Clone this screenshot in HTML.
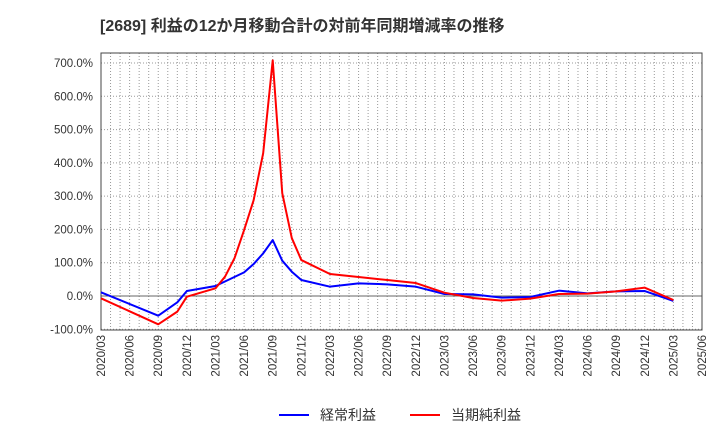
<!DOCTYPE html>
<html><head><meta charset="utf-8"><style>
body{margin:0;background:#fff;}
svg text{font-family:"Liberation Sans","Noto Sans CJK JP",sans-serif;}
</style></head><body>
<svg id="chart" width="720" height="440" xmlns="http://www.w3.org/2000/svg">
<text x="100" y="31" font-size="16" font-weight="bold" fill="#333">[2689]  利益の12か月移動合計の対前年同期増減率の推移</text>
<g id="grid"></g><g id="axes"></g><g id="series"></g>
<g>
<line x1="279" y1="415" x2="309" y2="415" stroke="#0000ff" stroke-width="2"/>
<text x="320" y="420" font-size="14" fill="#333">経常利益</text>
<line x1="410" y1="415" x2="440" y2="415" stroke="#ff0000" stroke-width="2"/>
<text x="451" y="420" font-size="14" fill="#333">当期純利益</text>
</g>
</svg>
<script>
const blueMonths=[0,6,8,9,12,15,16,17,18,19,20,21,24,27,30,33,36,39,42,45,48,51,54,57,60];
const blueValues=[11,-59,-19,15,30,71,96,128,168,106,73,48,28,38,35,28,6,5,-5,-3,16,8,14,15,-15];
const redMonths=[0,6,8,9,12,13,14,15,16,17,18,19,20,21,24,27,30,33,36,39,42,45,48,51,54,57,60];
const redValues=[-7,-85,-47,-2,23,58,114,198,288,429,708,309,174,108,66,57,48,39,10,-6,-14,-8,6,7,14,25,-12];
const yTicks=[-100,0,100,200,300,400,500,600,700];
const xTickLabels=["2020/03","2020/06","2020/09","2020/12","2021/03","2021/06","2021/09","2021/12","2022/03","2022/06","2022/09","2022/12","2023/03","2023/06","2023/09","2023/12","2024/03","2024/06","2024/09","2024/12","2025/03","2025/06"];
const L=101,R=702,T=53,B=330,NM=63;
const x=m=>L+(R-L)*m/NM;
const y=v=>296-v*(296-63)/700;
const ns="http://www.w3.org/2000/svg";
function mk(tag,attrs,parent){const e=document.createElementNS(ns,tag);for(const k in attrs)e.setAttribute(k,attrs[k]);parent.appendChild(e);return e;}
const grid=document.getElementById('grid'),axes=document.getElementById('axes'),ser=document.getElementById('series');
for(let m=1;m<NM;m++){const l=mk('line',{x1:x(m),x2:x(m),y1:T,y2:B,stroke:'#999','stroke-dasharray':'1,2','stroke-width':1},grid);

}
yTicks.forEach(v=>{const l=mk('line',{x1:L,x2:R,y1:y(v),y2:y(v),stroke:v===0?'#666':'#999','stroke-dasharray':v===0?'none':'1,2','stroke-width':1},grid);


const t=mk('text',{x:L-8,y:y(v)+4,'text-anchor':'end','font-size':11.5,fill:'#333'},axes);t.textContent=v.toFixed(1)+'%';

});
const fr=mk('rect',{x:L,y:T,width:R-L,height:B-T,fill:'none',stroke:'#444','stroke-width':1},axes);


xTickLabels.forEach((lab,i)=>{const xx=x(i*3);const t=mk('text',{x:0,y:0,'text-anchor':'end','font-size':11.5,fill:'#333',transform:`translate(${xx+4},${B+5}) rotate(-90)`},axes);t.textContent=lab;

});
function line(ms,vs,color,name){const p=mk('polyline',{points:ms.map((m,i)=>x(m)+','+y(vs[i])).join(' '),fill:'none',stroke:color,'stroke-width':2,'stroke-linejoin':'round'},ser);

}
line(blueMonths,blueValues,'#0000ff','series-keijo');
line(redMonths,redValues,'#ff0000','series-junri');
</script>
</body></html>
